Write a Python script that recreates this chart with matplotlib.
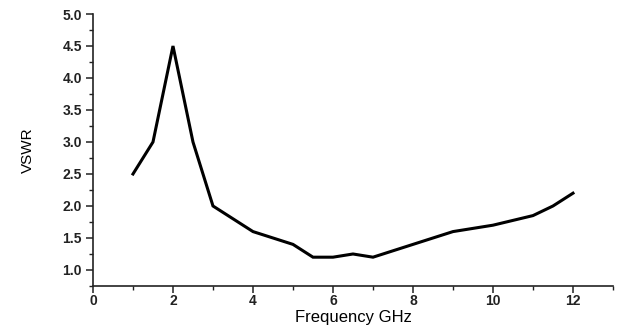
import matplotlib
matplotlib.use("Agg")
import matplotlib.pyplot as plt
from matplotlib.ticker import MultipleLocator

# VSWR vs frequency
freq_ghz = [1, 1.5, 2, 2.5, 3, 4, 5, 5.5, 6, 6.5, 7, 8, 9, 10, 11, 11.5, 12]
vswr = [2.5, 3.0, 4.5, 3.0, 2.0, 1.6, 1.4, 1.2, 1.2, 1.25, 1.2, 1.4, 1.6, 1.7, 1.85, 2.0, 2.2]

plt.rcParams['font.family'] = ['Liberation Sans', 'DejaVu Sans']

fig = plt.figure(figsize=(6.17, 3.31), dpi=100)
ax = fig.add_axes([0.1507, 0.136, 0.8428, 0.8217])

ax.plot(freq_ghz, vswr, color='black', linewidth=2.2, solid_joinstyle='miter')

ax.set_xlim(0, 13)
ax.set_ylim(0.75, 5.0)
ax.xaxis.set_major_locator(MultipleLocator(2))
ax.xaxis.set_minor_locator(MultipleLocator(1))
ax.yaxis.set_major_locator(MultipleLocator(0.5))
ax.yaxis.set_minor_locator(MultipleLocator(0.25))
ax.set_yticks([1.0, 1.5, 2.0, 2.5, 3.0, 3.5, 4.0, 4.5, 5.0])
ax.yaxis.set_major_formatter(plt.FormatStrFormatter('%.1f'))

for side in ('top', 'right'):
    ax.spines[side].set_visible(False)
for side in ('left', 'bottom'):
    ax.spines[side].set_linewidth(1.2)
    ax.spines[side].set_color('#222222')

ax.tick_params(which='major', direction='out', length=5, width=1.1, colors='#222222')
ax.tick_params(which='minor', direction='out', length=3, width=1.0, colors='#222222')
ax.tick_params(axis='x', labelsize=10, pad=1)
ax.tick_params(axis='y', labelsize=10, pad=3)
for lbl in ax.get_xticklabels() + ax.get_yticklabels():
    lbl.set_fontweight('bold')

ax.set_xlabel('Frequency GHz', fontsize=12, labelpad=1)
ax.set_ylabel('VSWR', fontsize=11, labelpad=20)

fig.savefig('out.png', dpi=100)
